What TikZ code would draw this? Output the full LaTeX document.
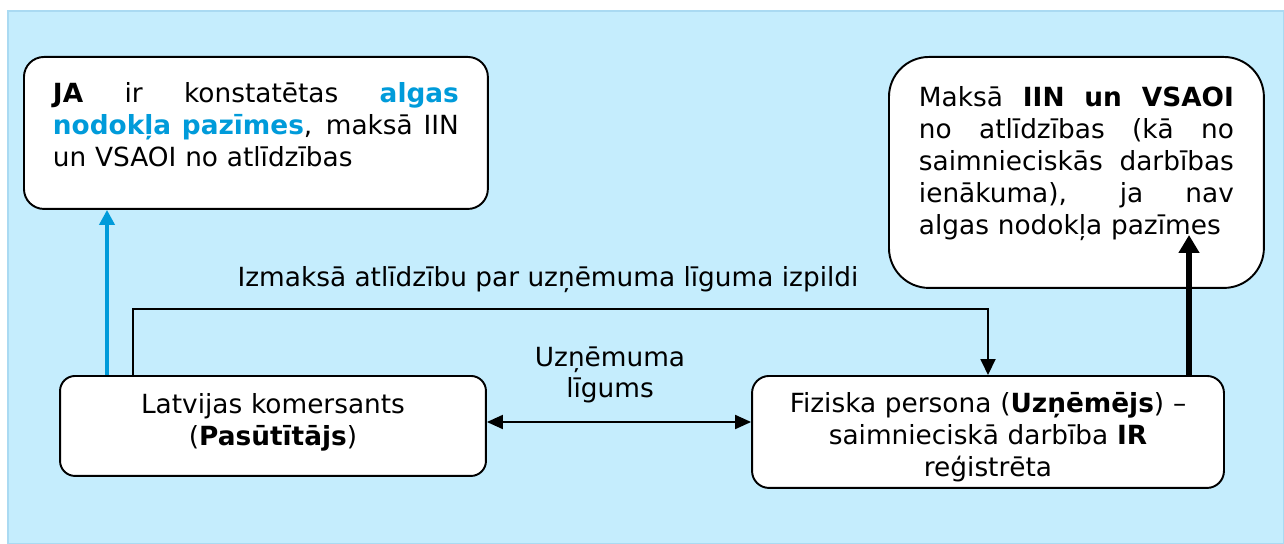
\documentclass[tikz,border=0pt]{standalone}
\usepackage{fontspec}
\setmainfont{DejaVu Sans}
\usetikzlibrary{arrows.meta}
\definecolor{bgblue}{RGB}{197,237,253}
\definecolor{bgline}{RGB}{170,218,242}
\definecolor{keyblue}{RGB}{0,155,218}
\newcommand{\jline}[2]{\leavevmode\hbox to #1{\spaceskip=0pt plus 1fil\relax #2}}

\begin{document}
\begin{tikzpicture}[x=0.02cm, y=-0.02cm,
		font=\fontsize{15}{18.1}\selectfont,
		box_style/.style={draw=black, line width=1.1pt, fill=white, inner ysep=0pt},
		edge_style/.style={draw=black, line width=1.1pt, -{Triangle[length=0.32cm,width=0.3cm]}},
		both_style/.style={draw=black, line width=1.1pt, {Triangle[length=0.32cm,width=0.28cm]}-{Triangle[length=0.32cm,width=0.28cm]}},
		blue_style/.style={draw=keyblue, line width=2.8pt, -{Triangle[length=0.3cm,width=0.3cm]}},
		tax_style/.style={draw=black, line width=3.8pt, -{Triangle[length=0.36cm,width=0.4cm]}}]

		\useasboundingbox (0,0) rectangle (1284,544);
		\draw[fill=bgblue, draw=bgline, line width=1pt] (8,11) rectangle (1284,544);

		\node[box_style, rounded corners=0.4cm, anchor=north west, text width=8.12cm, inner xsep=0.58cm,
			text height=0.92cm, text depth=2.12cm] (boxA) at (23,56)
			{\jline{8.12cm}{\textbf{JA} ir konstatētas \textcolor{keyblue}{\textbf{algas}}}\\
			\jline{8.12cm}{\textcolor{keyblue}{\textbf{nodokļa pazīmes}}, maksā IIN}\\
			un VSAOI no atlīdzības};
		\node[box_style, rounded corners=0.8cm, anchor=north west, text width=6.3cm, inner xsep=0.6cm,
			text height=1.0cm, text depth=3.62cm] (boxB) at (888,56)
			{\jline{6.3cm}{Maksā \textbf{IIN un VSAOI}}\\
			\jline{6.3cm}{no atlīdzības (kā no}\\
			\jline{6.3cm}{saimnieciskās darbības}\\
			\jline{6.3cm}{ienākuma), ja nav}\\
			algas nodokļa pazīmes};
		\node[box_style, rounded corners=0.3cm, anchor=north, text width=8.12cm, inner xsep=0.2cm, align=center,
			text height=0.76cm, text depth=1.24cm] (boxC) at (273,375)
			{Latvijas komersants\\(\textbf{Pasūtītājs})};
		\node[box_style, rounded corners=0.34cm, anchor=north, text width=9.04cm, inner xsep=0.2cm, align=center,
			text height=0.74cm, text depth=1.5cm] (boxD) at (988,375)
			{Fiziska persona (\textbf{Uzņēmējs}) –\\saimnieciskā darbība \textbf{IR}\\reģistrēta};

		\node (payText) at (548,280) {Izmaksā atlīdzību par uzņēmuma līguma izpildi};
		\node[align=center] (dealText) at (610,375) {Uzņēmuma\\līgums};

		\coordinate (blueX) at (107,0);
		\coordinate (payX) at (133,0);
		\coordinate (payY) at (0,309);
		\coordinate (dealY) at (0,422);
		\coordinate (taxTip) at (1189,235);

		\draw[blue_style]  (boxC.north -| blueX) -- (boxA.south -| blueX);
		\draw[edge_style]  (boxC.north -| payX) |- (payY -| boxD.north) -- (boxD.north);
		\draw[both_style]  (boxC.east |- dealY) -- (boxD.west |- dealY);
		\draw[tax_style]  (boxD.north -| taxTip) -- (taxTip);
\end{tikzpicture}
\end{document}
